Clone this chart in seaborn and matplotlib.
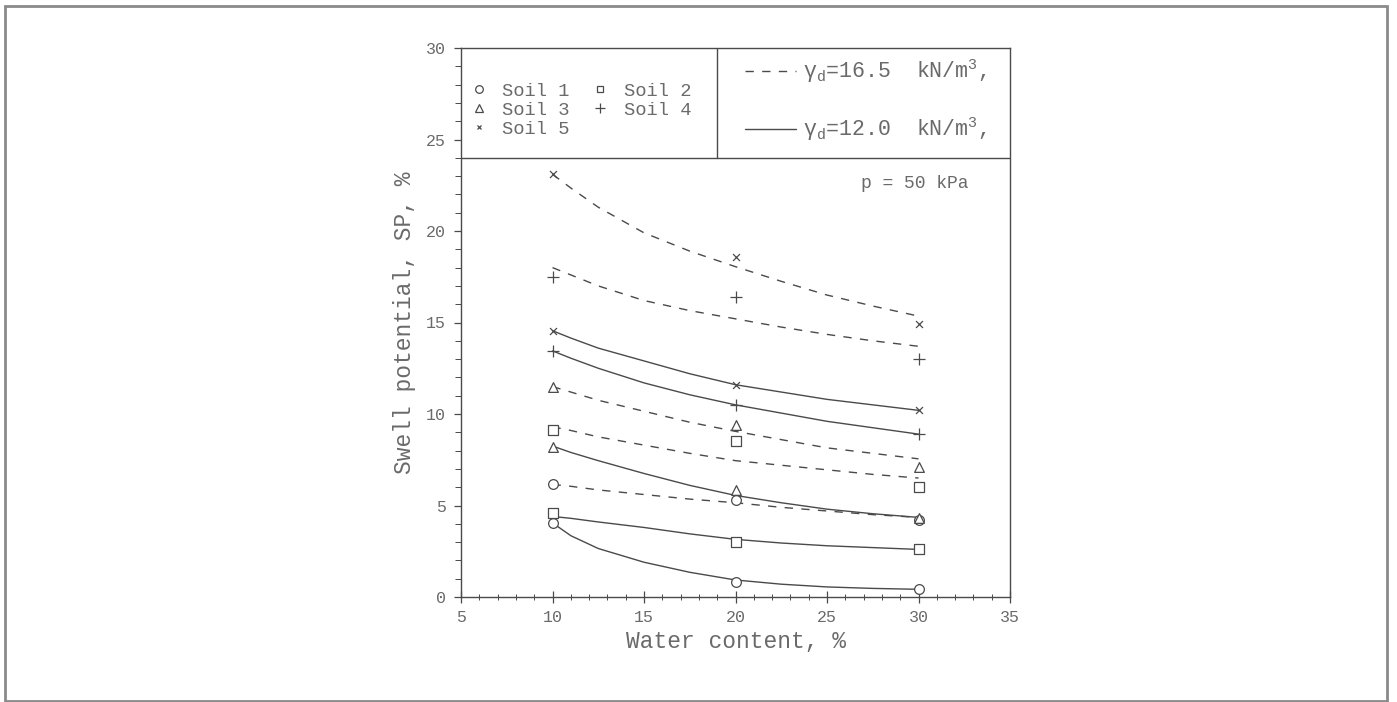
import matplotlib
matplotlib.use("Agg")
import matplotlib.pyplot as plt
import seaborn as sns
import pandas as pd
from matplotlib.lines import Line2D
from matplotlib.patches import Rectangle

# ---------------- data ----------------
soils = ["Soil 1", "Soil 2", "Soil 3", "Soil 4", "Soil 5"]
point_w = [10, 20, 30]
# measured points, gamma_d = 16.5 kN/m3
pts_165 = {
    "Soil 1": [6.15, 5.3, 4.2],
    "Soil 2": [9.15, 8.55, 6.0],
    "Soil 3": [11.5, 9.4, 7.1],
    "Soil 4": [17.5, 16.4, 13.0],
    "Soil 5": [23.1, 18.6, 14.9],
}
# measured points, gamma_d = 12.0 kN/m3
pts_120 = {
    "Soil 1": [4.05, 0.82, 0.44],
    "Soil 2": [4.6, 3.0, 2.65],
    "Soil 3": [8.2, 5.85, 4.3],
    "Soil 4": [13.45, 10.5, 8.9],
    "Soil 5": [14.55, 11.6, 10.2],
}
curve_w = [10, 11, 12.5, 15, 17.5, 20, 22.5, 25, 27.5, 30]
# fitted curves
curve_165 = {
    "Soil 1": [6.15, 6.05, 5.85, 5.6, 5.35, 5.15, 4.9, 4.7, 4.5, 4.35],
    "Soil 2": [9.3, 9.1, 8.75, 8.3, 7.85, 7.45, 7.2, 6.95, 6.7, 6.5],
    "Soil 3": [11.5, 11.2, 10.75, 10.15, 9.55, 9.05, 8.6, 8.15, 7.85, 7.55],
    "Soil 4": [18.0, 17.6, 17.0, 16.2, 15.65, 15.2, 14.75, 14.35, 14.0, 13.7],
    "Soil 5": [23.1, 22.35, 21.3, 19.9, 18.9, 18.05, 17.25, 16.5, 15.9, 15.35],
}
curve_120 = {
    "Soil 1": [4.05, 3.35, 2.65, 1.9, 1.35, 0.93, 0.7, 0.55, 0.47, 0.42],
    "Soil 2": [4.4, 4.3, 4.1, 3.8, 3.45, 3.15, 2.95, 2.8, 2.7, 2.6],
    "Soil 3": [8.25, 7.9, 7.45, 6.75, 6.1, 5.55, 5.15, 4.8, 4.55, 4.35],
    "Soil 4": [13.45, 13.05, 12.5, 11.7, 11.05, 10.5, 10.05, 9.6, 9.25, 8.9],
    "Soil 5": [14.55, 14.15, 13.6, 12.9, 12.2, 11.6, 11.2, 10.8, 10.5, 10.2],
}
density_labels = ["γ$_{\\mathrm{d}}$=16.5  kN/m$^{3}$,", "γ$_{\\mathrm{d}}$=12.0  kN/m$^{3}$,"]
x_ticks = [5, 10, 15, 20, 25, 30, 35]
y_ticks = [0, 5, 10, 15, 20, 25, 30]

# ---------------- style ----------------
sns.set_theme(style="white")
FONT = ["Liberation Mono", "DejaVu Sans Mono"]
plt.rcParams["font.family"] = FONT
plt.rcParams["mathtext.fontset"] = "custom"
plt.rcParams["mathtext.rm"] = "Liberation Mono"
plt.rcParams["mathtext.it"] = "Liberation Mono:italic"
TXT = "#6a6a6a"
LN = "#4a4a4a"
markers = {"Soil 1": "o", "Soil 2": "s", "Soil 3": "^", "Soil 4": "+", "Soil 5": "x"}
msize = {"Soil 1": 7, "Soil 2": 6.5, "Soil 3": 7, "Soil 4": 8, "Soil 5": 5}
DASH = (6, 6)

fig = plt.figure(figsize=(13.97, 7.02), dpi=100)
ax = fig.add_axes([461 / 1397, 1 - 597 / 702, 549 / 1397, 549 / 702])

rows = []
for dens, cdict in (("16.5", curve_165), ("12.0", curve_120)):
    for s in soils:
        for w, v in zip(curve_w, cdict[s]):
            rows.append({"w": w, "sp": v, "soil": s, "dens": dens})
cdf = pd.DataFrame(rows)
for (dens, s), g in cdf.groupby(["dens", "soil"]):
    sns.lineplot(data=g, x="w", y="sp", ax=ax, color=LN, lw=1.0,
                 linestyle=(0, DASH) if dens == "16.5" else "-", sort=True)

prow = []
for dens, pdict in (("16.5", pts_165), ("12.0", pts_120)):
    for s in soils:
        for w, v in zip(point_w, pdict[s]):
            prow.append({"w": w, "sp": v, "soil": s, "dens": dens})
pdf = pd.DataFrame(prow)
for s in soils:
    g = pdf[pdf["soil"] == s]
    m = markers[s]
    size = (msize[s]) ** 2
    if m in ("+", "x"):
        sns.scatterplot(data=g, x="w", y="sp", ax=ax, marker=m, s=size,
                        color=LN, linewidth=0.9, zorder=3)
    else:
        sns.scatterplot(data=g, x="w", y="sp", ax=ax, marker=m, s=size,
                        facecolor="white", edgecolor=LN, linewidth=0.9, zorder=3)

ax.set_xlim(5, 35)
ax.set_ylim(0, 30)
ax.set_xticks(x_ticks)
ax.set_yticks(y_ticks)
ax.set_xticks(range(5, 36), minor=True)
ax.set_yticks(range(0, 31), minor=True)
ax.tick_params(axis="x", which="major", direction="inout", length=8, width=0.9,
               color=LN, labelsize=12, labelcolor=TXT, pad=5, bottom=True)
ax.tick_params(axis="x", which="minor", direction="inout", length=5, width=0.7,
               color=LN, bottom=True)
ax.tick_params(axis="y", which="major", direction="out", length=5, width=0.9,
               color=LN, labelsize=12, labelcolor=TXT, pad=6, left=True)
ax.tick_params(axis="y", which="minor", direction="out", length=4, width=0.7,
               color=LN, left=True)
for sp in ax.spines.values():
    sp.set_color(LN)
    sp.set_linewidth(1.0)
    sp.set_visible(True)

ax.set_xlabel("Water content, %", fontsize=16.5, color=TXT, labelpad=4)
ax.set_ylabel("Swell potential, SP, %", fontsize=16.5, color=TXT, labelpad=7)

# legend box
ax.axhline(24, color=LN, lw=1.0)
ax.plot([19, 19], [24, 30], color=LN, lw=1.0)

handles = {}
for s in soils:
    m = markers[s]
    if m in ("+", "x"):
        handles[s] = Line2D([], [], ls="none", marker=m, color=LN, ms=msize[s] - 1.5, mew=0.9)
    else:
        handles[s] = Line2D([], [], ls="none", marker=m, mfc="white", mec=LN,
                            ms=msize[s] - 1.5, mew=0.9)
order = ["Soil 1", "Soil 3", "Soil 5", "Soil 2", "Soil 4"]
leg1 = ax.legend([handles[s] for s in order], order, ncol=2, loc="upper left",
                 bbox_to_anchor=(5.5, 28.1), bbox_transform=ax.transData,
                 frameon=False, fontsize=13.5, labelcolor=TXT, borderpad=0,
                 borderaxespad=0, handlelength=0.9, handletextpad=0.8,
                 columnspacing=1.2, labelspacing=0.1)
ax.add_artist(leg1)

lh = [Line2D([], [], color=LN, lw=1.0, ls=(0, DASH)), Line2D([], [], color=LN, lw=1.0)]
ax.legend(lh, density_labels, loc="upper left",
          bbox_to_anchor=(20.5, 29.5), bbox_transform=ax.transData,
          frameon=False, fontsize=15.5, labelcolor=TXT, borderpad=0,
          borderaxespad=0, handlelength=2.4, handletextpad=0.3, labelspacing=1.4)

ax.text(29.8, 22.6, "p = 50 kPa", ha="center", va="center", fontsize=13, color=TXT)

# outer frame
fig.patches.append(Rectangle((5 / 1397, 1 / 702), 1382 / 1397, 695 / 702,
                             transform=fig.transFigure, fill=False,
                             edgecolor="#8a8a8a", lw=2))

fig.savefig("out.png", dpi=100)
